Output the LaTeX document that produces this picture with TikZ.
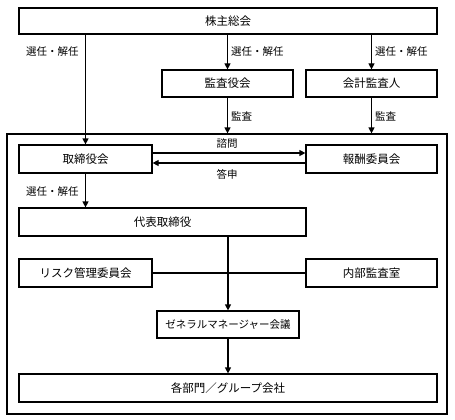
\documentclass[tikz,border=0pt]{standalone}
\usepackage{fontspec}
\setmainfont{Noto Sans CJK JP}
\usetikzlibrary{arrows.meta}
\begin{document}
\begin{tikzpicture}[x=1pt,y=-1pt,
  box/.style={draw,line width=1.2pt,inner sep=0pt,font=\fontsize{11.5}{12}\selectfont},
  arr/.style={line width=1.2pt,-{Triangle[length=6pt,width=6pt]}},
  conn/.style={line width=1.2pt},
  lbl/.style={font=\fontsize{10.5}{11}\selectfont,inner sep=0pt,anchor=west}]
\useasboundingbox (0,0) rectangle (455,420);
\node[draw,line width=1.2pt,minimum width=440,minimum height=280] (outer) at (227,274) {};
\node[box,minimum width=418,minimum height=26] (kabu) at (228,21) {株主総会};
\node[box,minimum width=131,minimum height=27] (kansa) at (227.5,83.5) {監査役会};
\node[box,minimum width=131,minimum height=27] (kaikei) at (371.5,83.5) {会計監査人};
\node[box,minimum width=133,minimum height=28] (tori) at (85.5,159) {取締役会};
\node[box,minimum width=131,minimum height=28] (hoshu) at (371.5,159) {報酬委員会};
\node[box,minimum width=287,minimum height=28] (daihyo) at (162.5,222) {代表取締役};
\node[box,minimum width=133,minimum height=28] (risk) at (85.5,273) {リスク管理委員会};
\node[box,minimum width=131,minimum height=28] (naibu) at (371.5,273) {内部監査室};
\node[box,minimum width=142,minimum height=27,font=\fontsize{10.5}{11}\selectfont] (gm) at (228,324.5) {ゼネラルマネージャー会議};
\node[box,minimum width=418,minimum height=28] (kakubu) at (228,388) {各部門／グループ会社};

\draw[arr] (tori |- kabu.south) -- (tori.north);
\draw[arr] (kansa |- kabu.south) -- (kansa.north);
\draw[arr] (kaikei |- kabu.south) -- (kaikei.north);
\draw[arr] (kansa.south) -- (kansa.south |- outer.north);
\draw[arr] (kaikei.south) -- (kaikei.south |- outer.north);
\coordinate (s1) at ([yshift=6pt]tori.east);
\coordinate (s2) at ([yshift=-4pt]hoshu.west);
\draw[arr] (s1) -- (hoshu.west |- s1);
\draw[arr] (s2) -- (tori.east |- s2);
\draw[arr] (tori.south) -- (tori.south |- daihyo.north);
\draw[arr] (gm |- daihyo.south) -- (gm.north);
\draw[conn] (risk.east) -- (naibu.west);
\draw[arr] (gm.south) -- (kakubu.north);

\node[lbl] (l1) at (26,52) {選任・解任};
\node[lbl] (l2) at (231,52) {選任・解任};
\node[lbl] (l3) at (375,52) {選任・解任};
\node[lbl] (l4) at (231,116) {監査};
\node[lbl] (l5) at (375,116) {監査};
\node[lbl,anchor=center] (l6) at (227,144) {諮問};
\node[lbl,anchor=center] (l7) at (227,174) {答申};
\node[lbl] (l8) at (26,192) {選任・解任};
\end{tikzpicture}
\end{document}
